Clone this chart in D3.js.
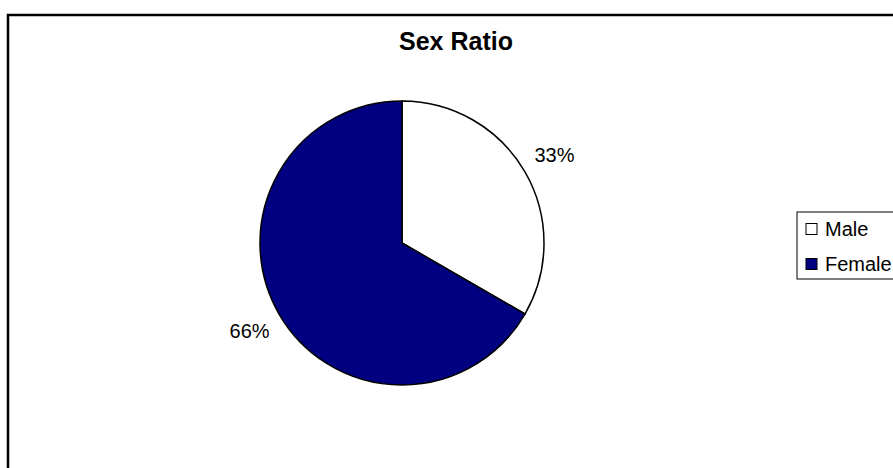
<!DOCTYPE html>
<html>
<head>
<meta charset="utf-8">
<script src="https://cdn.jsdelivr.net/npm/d3@7"></script>
<style>
  html, body { margin: 0; padding: 0; background: #fff; }
  svg { display: block; }
</style>
</head>
<body>
<div id="chart"></div>
<script>
const categories = ['Male', 'Female'];
const values = [33, 66];
const valueLabels = ['33%', '66%'];
const colors = ['#ffffff', '#000080'];
const title = 'Sex Ratio';

const width = 893, height = 468;
const cx = 402, cy = 243, radius = 142;
const font = 'Arial, "Liberation Sans", sans-serif';

const svg = d3.select('#chart').append('svg')
    .attr('width', width)
    .attr('height', height);

// chart area frame (runs off right and bottom edges)
svg.append('rect')
    .attr('x', 8)
    .attr('y', 15)
    .attr('width', 900)
    .attr('height', 470)
    .attr('fill', '#fff')
    .attr('stroke', '#000')
    .attr('stroke-width', 2.5);

svg.append('text')
    .attr('x', 456)
    .attr('y', 50)
    .attr('text-anchor', 'middle')
    .attr('font-family', font)
    .attr('font-weight', 'bold')
    .attr('font-size', 25)
    .text(title);

const data = categories.map((c, i) => ({ name: c, value: values[i], label: valueLabels[i], color: colors[i] }));

const pie = d3.pie().sort(null).value(d => d.value);
const arc = d3.arc().innerRadius(0).outerRadius(radius);
const labelArc = d3.arc().innerRadius(176).outerRadius(176);

const g = svg.append('g').attr('transform', `translate(${cx},${cy})`);
const arcs = pie(data);

g.selectAll('path')
    .data(arcs)
    .enter()
    .append('path')
    .attr('d', arc)
    .attr('fill', d => d.data.color)
    .attr('stroke', '#000')
    .attr('stroke-width', 1.5);

g.selectAll('text.pct')
    .data(arcs)
    .enter()
    .append('text')
    .attr('class', 'pct')
    .attr('transform', d => `translate(${labelArc.centroid(d)})`)
    .attr('text-anchor', 'middle')
    .attr('dy', '0.35em')
    .attr('font-family', font)
    .attr('font-size', 20)
    .text(d => d.data.label);

// legend
const legend = svg.append('g').attr('transform', 'translate(797,212)');
legend.append('rect')
    .attr('width', 110)
    .attr('height', 67)
    .attr('fill', '#fff')
    .attr('stroke', '#000')
    .attr('stroke-width', 1);

const items = legend.selectAll('g')
    .data(data)
    .enter()
    .append('g')
    .attr('transform', (d, i) => `translate(9,${17 + i * 35})`);

items.append('rect')
    .attr('x', 0)
    .attr('y', -5.5)
    .attr('width', 11)
    .attr('height', 11)
    .attr('fill', d => d.color)
    .attr('stroke', '#000')
    .attr('stroke-width', 1);

items.append('text')
    .attr('x', 19)
    .attr('dy', '0.35em')
    .attr('font-family', font)
    .attr('font-size', 20)
    .text(d => d.name);
</script>
</body>
</html>
